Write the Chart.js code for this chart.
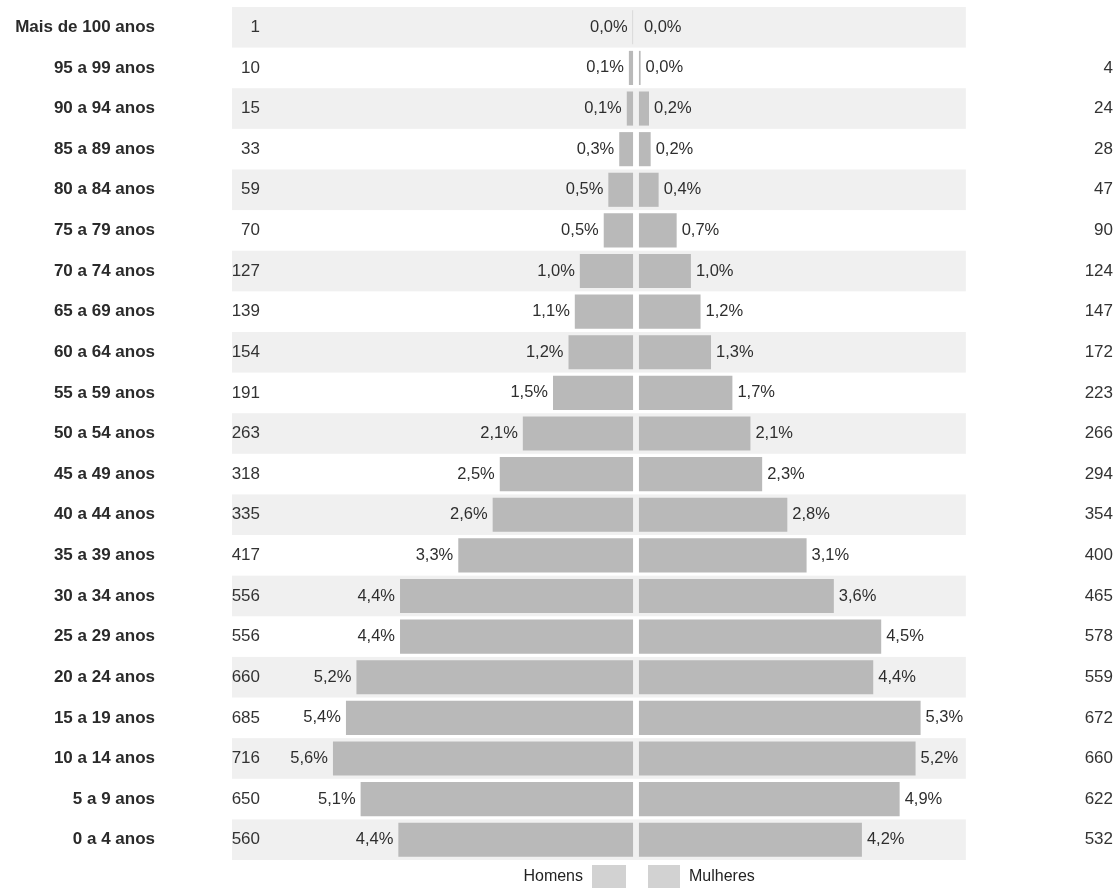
<!DOCTYPE html>
<html>
<head>
<meta charset="utf-8">
<script src="https://cdn.jsdelivr.net/npm/chart.js@4.4.1/dist/chart.umd.min.js"></script>
<style>
html,body{margin:0;padding:0;background:#fff;}
#wrap{width:1119px;height:888px;position:relative;}
</style>
</head>
<body>
<div id="wrap"><canvas id="c"></canvas></div>
<script>
const ageGroups = ['Mais de 100 anos','95 a 99 anos','90 a 94 anos','85 a 89 anos','80 a 84 anos','75 a 79 anos','70 a 74 anos','65 a 69 anos','60 a 64 anos','55 a 59 anos','50 a 54 anos','45 a 49 anos','40 a 44 anos','35 a 39 anos','30 a 34 anos','25 a 29 anos','20 a 24 anos','15 a 19 anos','10 a 14 anos','5 a 9 anos','0 a 4 anos'];
const maleCounts = [1,10,15,33,59,70,127,139,154,191,263,318,335,417,556,556,660,685,716,650,560];
const femaleCounts = [null,4,24,28,47,90,124,147,172,223,266,294,354,400,465,578,559,672,660,622,532];
const malePct = [0.0,0.1,0.1,0.3,0.5,0.5,1.0,1.1,1.2,1.5,2.1,2.5,2.6,3.3,4.4,4.4,5.2,5.4,5.6,5.1,4.4];
const femalePct = [0.0,0.0,0.2,0.2,0.4,0.7,1.0,1.2,1.3,1.7,2.1,2.3,2.8,3.1,3.6,4.5,4.4,5.3,5.2,4.9,4.2];
const seriesNames = ['Homens','Mulheres'];

const FONT = "'Liberation Sans', Arial, sans-serif";
const BAR = '#b9b9b9';
const fmtPct = v => v.toFixed(1).replace('.', ',') + '%';

const stripes = {
  id: 'stripes',
  beforeDatasetsDraw(chart) {
    const {ctx, chartArea} = chart;
    const y = chart.scales.y, xf = chart.scales.xf;
    const step = y.getPixelForValue(1) - y.getPixelForValue(0);
    ctx.save();
    ctx.fillStyle = '#f0f0f0';
    ageGroups.forEach((g, i) => {
      if (i % 2 !== 0) return;
      const cy = y.getPixelForValue(i);
      const x0 = chartArea.left - 23;
      const x1 = xf.getPixelForValue(780);
      ctx.fillRect(x0, cy - step / 2, x1 - x0, step);
    });
    ctx.restore();
  }
};

const labels = {
  id: 'labels',
  afterDatasetsDraw(chart) {
    const {ctx, chartArea} = chart;
    const y = chart.scales.y, xm = chart.scales.xm, xf = chart.scales.xf;
    ctx.save();
    ctx.textBaseline = 'middle';
    ageGroups.forEach((g, i) => {
      const cy = y.getPixelForValue(i);
      ctx.font = '17px ' + FONT;
      ctx.fillStyle = '#333';
      ctx.textAlign = 'right';
      if (maleCounts[i] != null) ctx.fillText(String(maleCounts[i]), chartArea.left + 5, cy);
      if (femaleCounts[i] != null) ctx.fillText(String(femaleCounts[i]), chart.width - 6, cy);
      ctx.font = '16.5px ' + FONT;
      ctx.fillStyle = '#2e2e2e';
      ctx.textAlign = 'right';
      ctx.fillText(fmtPct(malePct[i]), xm.getPixelForValue(maleCounts[i] || 0) - 5, cy);
      ctx.textAlign = 'left';
      ctx.fillText(fmtPct(femalePct[i]), xf.getPixelForValue(femaleCounts[i] || 0) + 5, cy);
    });
    ctx.restore();
  }
};

const customLegend = {
  id: 'customLegend',
  afterDraw(chart) {
    const {ctx, chartArea} = chart;
    const cx = (chartArea.left + chartArea.right) / 2;
    const cy = chartArea.bottom + 17;
    ctx.save();
    ctx.font = '16px ' + FONT;
    ctx.fillStyle = '#222';
    ctx.textBaseline = 'middle';
    ctx.textAlign = 'right';
    ctx.fillText(seriesNames[0], cx - 53, cy);
    ctx.textAlign = 'left';
    ctx.fillText(seriesNames[1], cx + 53, cy);
    ctx.fillStyle = '#d2d2d2';
    ctx.fillRect(cx - 44, cy - 12, 34, 28);
    ctx.fillRect(cx + 12, cy - 12, 32, 28);
    ctx.restore();
  }
};

new Chart(document.getElementById('c'), {
  type: 'bar',
  data: {
    labels: ageGroups,
    datasets: [
      {label: seriesNames[0], data: maleCounts, xAxisID: 'xm', grouped: false,
       backgroundColor: BAR, barPercentage: 0.84, categoryPercentage: 1},
      {label: seriesNames[1], data: femaleCounts, xAxisID: 'xf', grouped: false,
       backgroundColor: BAR, barPercentage: 0.84, categoryPercentage: 1}
    ]
  },
  options: {
    indexAxis: 'y',
    responsive: true,
    maintainAspectRatio: false,
    animation: false,
    layout: {padding: {top: 7, bottom: 28, left: 0, right: 102}},
    plugins: {legend: {display: false}, tooltip: {enabled: false}},
    scales: {
      y: {
        type: 'category',
        grid: {display: false},
        border: {display: false},
        ticks: {padding: 92, color: '#2a2a2a', font: {family: FONT, size: 17, weight: 'bold'}},
        afterFit(s) { s.width = 255; s.paddingTop = 0; s.paddingBottom = 0; }
      },
      xm: {type: 'linear', position: 'bottom', stack: 'pyr', stackWeight: 1, reverse: true,
           min: -7, max: 902, display: false},
      xf: {type: 'linear', position: 'bottom', stack: 'pyr', stackWeight: 1,
           min: -7, max: 902, display: false}
    }
  },
  plugins: [stripes, labels, customLegend]
});
</script>
</body>
</html>
